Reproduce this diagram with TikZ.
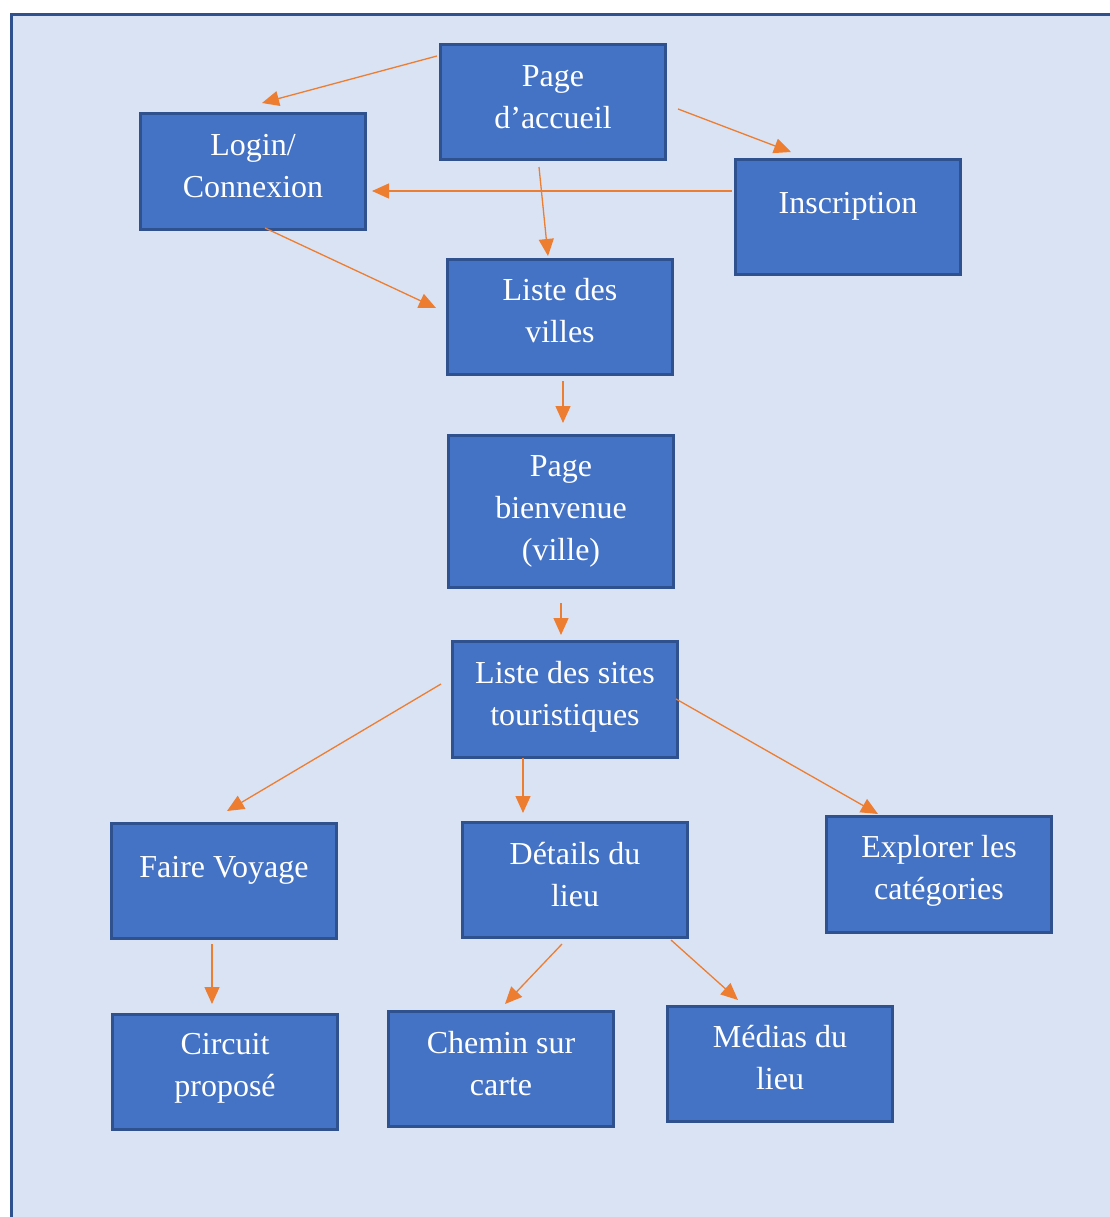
\documentclass[tikz,border=0pt]{standalone}
\usepackage{fontspec}
\setmainfont{Liberation Serif}
\usetikzlibrary{arrows.meta}
\definecolor{pagebg}{HTML}{DAE3F3}
\definecolor{boxfill}{HTML}{4472C4}
\definecolor{boxline}{HTML}{2F528F}
\definecolor{arrowc}{HTML}{ED7D31}
\begin{document}
\begin{tikzpicture}[x=1pt,y=1pt,
  box/.style={rectangle, fill=boxfill, draw=boxline, line width=2.6pt,
    minimum width=225.5pt, minimum height=115.5pt, inner sep=0pt},
  tallbox/.style={box, minimum height=152.5pt},
  txt/.style={text=white, align=center, inner sep=0pt,
    font=\fontsize{32}{42}\selectfont},
  arr/.style={draw=arrowc, line width=1.3pt,
    -{Triangle[length=17pt,width=15pt]}}]
\useasboundingbox (0,0) rectangle (1110,-1217);
\clip (0,0) rectangle (1110,-1217);
% frame
\draw[fill=pagebg, draw=boxline, line width=2.6pt] (11.3,-14.3) rectangle (1130,-1240);

% boxes
\node[box] (acc) at (553,-102) {};
\node[box] (login) at (253,-171.5) {};
\node[box] (insc) at (848,-217) {};
\node[box] (villes) at (560,-317) {};
\node[tallbox] (bienv) at (561,-511.5) {};
\node[box] (sites) at (565,-699.5) {};
\node[box] (faire) at (224,-881) {};
\node[box] (details) at (575,-880) {};
\node[box] (explorer) at (939,-874.5) {};
\node[box] (circuit) at (225,-1072) {};
\node[box] (chemin) at (501,-1069) {};
\node[box] (medias) at (780,-1064) {};

% labels
\node[txt] (tacc) at ([yshift=4.5]acc.center) {Page\\d’accueil};
\node[txt] (tlogin) at ([yshift=5]login.center) {Login/\\Connexion};
\node[txt] (tinsc) at ([yshift=10.5]insc.center) {Inscription};
\node[txt] (tvilles) at ([yshift=6]villes.center) {Liste des\\villes};
\node[txt] (tbienv) at ([yshift=0]bienv.center) {Page\\bienvenue\\(ville)};
\node[txt] (tsites) at ([yshift=3]sites.center) {Liste des sites\\touristiques};
\node[txt] (tfaire) at ([yshift=10.5]faire.center) {Faire Voyage};
\node[txt] (tdetails) at ([yshift=5.5]details.center) {Détails du\\lieu};
\node[txt] (texplorer) at ([yshift=3.5]explorer.center) {Explorer les\\catégories};
\node[txt] (tcircuit) at ([yshift=3.5]circuit.center) {Circuit\\proposé};
\node[txt] (tchemin) at ([yshift=5]chemin.center) {Chemin sur\\carte};
\node[txt] (tmedias) at ([yshift=6]medias.center) {Médias du\\lieu};

% connectors
\draw[arr] ([shift={(-116,46)}]acc.center) -- ([shift={(9,68.5)}]login.center);
\draw[arr] ([shift={(125,-7)}]acc.center) -- ([shift={(-57,65)}]insc.center);
\draw[arr] ([shift={(-14,-65)}]acc.center) -- ([shift={(-12,61)}]villes.center);
\draw[arr] ([shift={(-116,26)}]insc.center) -- ([shift={(119,-19.5)}]login.center);
\draw[arr] ([shift={(12,-56.5)}]login.center) -- ([shift={(-124,9)}]villes.center);
\draw[arr] ([shift={(3,-64)}]villes.center) -- ([shift={(2,88.5)}]bienv.center);
\draw[arr] ([shift={(0,-91.5)}]bienv.center) -- ([shift={(-4,64.5)}]sites.center);
\draw[arr] ([shift={(-124,15.5)}]sites.center) -- ([shift={(3,70)}]faire.center);
\draw[arr] ([shift={(-42,-58.5)}]sites.center) -- ([shift={(-52,67)}]details.center);
\draw[arr] ([shift={(111,0.5)}]sites.center) -- ([shift={(-61,60.5)}]explorer.center);
\draw[arr] ([shift={(-12,-63)}]faire.center) -- ([shift={(-13,68)}]circuit.center);
\draw[arr] ([shift={(-13,-64)}]details.center) -- ([shift={(4,65)}]chemin.center);
\draw[arr] ([shift={(96,-60)}]details.center) -- ([shift={(-42,64)}]medias.center);
\end{tikzpicture}
\end{document}
